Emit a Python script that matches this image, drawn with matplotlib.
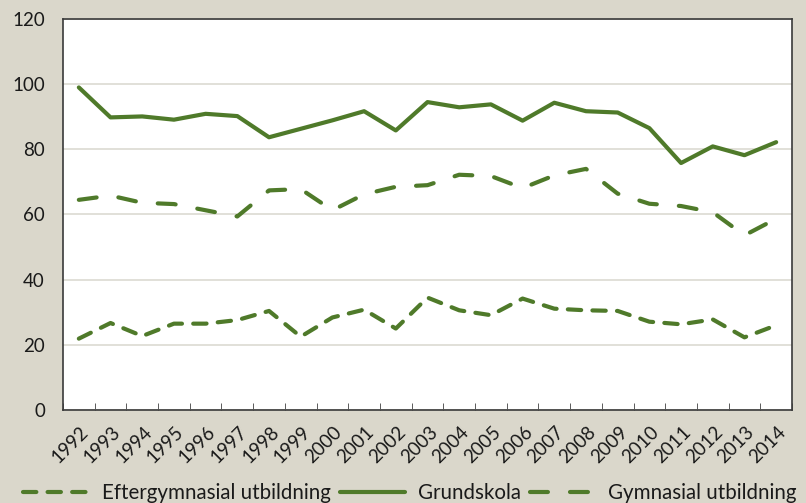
import matplotlib
matplotlib.use("Agg")
import matplotlib.pyplot as plt
from matplotlib.transforms import ScaledTranslation
import numpy as np

years = [str(y) for y in range(1992, 2015)]
eftergymnasial = [21.9, 26.7, 22.7, 26.5, 26.5, 27.6, 30.4, 22.5, 28.4, 30.8, 25.0, 34.5,
                  30.6, 29.1, 34.2, 31.1, 30.6, 30.4, 27.1, 26.3, 27.8, 22.3, 26.0]
grundskola = [99.0, 89.8, 90.1, 89.1, 90.9, 90.2, 83.7, 86.3, 88.9, 91.7, 85.8, 94.5,
              92.9, 93.8, 88.8, 94.3, 91.7, 91.3, 86.5, 75.8, 80.9, 78.2, 82.2]
gymnasial = [64.5, 65.8, 63.6, 63.2, 61.3, 59.4, 67.4, 67.8, 61.3, 66.2, 68.5, 69.0,
             72.2, 71.8, 68.1, 72.0, 74.0, 66.4, 63.3, 62.6, 60.7, 53.6, 58.7]
series_names = ["Eftergymnasial utbildning", "Grundskola", "Gymnasial utbildning"]
yticks = [0, 20, 40, 60, 80, 100, 120]

plt.rcParams['font.family'] = ['Lato', 'DejaVu Sans']
green = '#4F7A2A'
bg = '#DAD7CB'

fig = plt.figure(figsize=(8.06, 5.03), dpi=100, facecolor=bg)
ax = fig.add_axes([63/806, 1-410/503, (792-63)/806, (410-19)/503])
ax.set_facecolor('white')

x = np.arange(len(years))
lw = 3.0
ax.plot(x, eftergymnasial, color=green, lw=lw, dashes=(3.2, 2.7),
        dash_capstyle='round', solid_capstyle='round', label=series_names[0])
ax.plot(x, grundskola, color=green, lw=lw, solid_capstyle='round',
        label=series_names[1])
ax.plot(x, gymnasial, color=green, lw=lw, dashes=(4.3, 5.3),
        dash_capstyle='round', label=series_names[2])

ax.set_xlim(-0.5, len(years) - 0.5)
ax.set_ylim(0, 120)
ax.set_yticks(yticks)
ax.set_yticklabels([str(v) for v in yticks])
ax.yaxis.grid(True, color='#DCDAD2', lw=1.2)
ax.set_axisbelow(True)
ax.tick_params(axis='y', length=0, pad=13, labelsize=13.5, colors='#1a1a1a')

ax.set_xticks(x)
ax.set_xticklabels(years)
ax.set_xticks(np.arange(-0.5, len(years) + 0.5, 1), minor=True)
ax.tick_params(axis='x', which='major', length=0, pad=14, labelsize=13.5, colors='#1a1a1a')
ax.tick_params(axis='x', which='minor', length=5, direction='in', color='#404040')
for lab in ax.get_xticklabels():
    lab.set_rotation(45)
    lab.set_rotation_mode('anchor')
    lab.set_ha('right')
    lab.set_va('center')
    lab.set_transform(lab.get_transform() + ScaledTranslation(0.07, 0, fig.dpi_scale_trans))

for s in ax.spines.values():
    s.set_color('#3A3A3A')
    s.set_linewidth(1.2)

handles, labels = ax.get_legend_handles_labels()
leg = fig.legend(handles, labels, loc='center', bbox_to_anchor=(0.5 + 7/806, 1-493/503),
                 ncol=3, frameon=False, fontsize=14.8, handlelength=3.2,
                 handletextpad=0.6, columnspacing=0.45, borderaxespad=0)
for t in leg.get_texts():
    t.set_color('#1a1a1a')

fig.savefig('out.png', dpi=100, facecolor=bg)
